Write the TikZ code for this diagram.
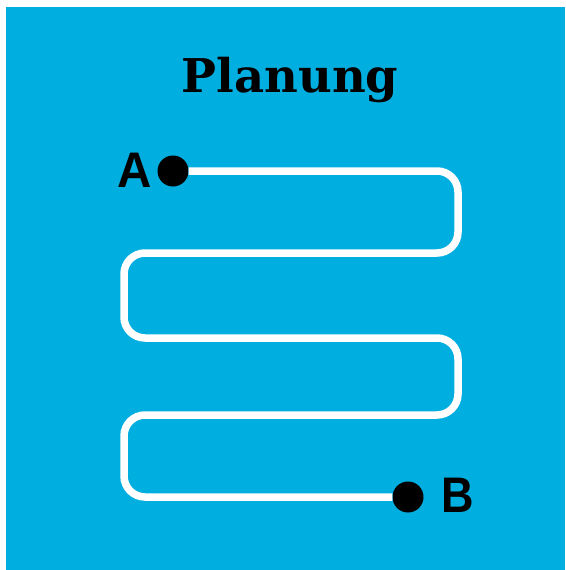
\documentclass[tikz,border=0pt]{standalone}
\usepackage{fontspec}
\newfontfamily\titlefont{DejaVu Serif}
\newfontfamily\labelfont{Liberation Sans}
\definecolor{skyblue}{RGB}{0,174,224}
\begin{document}
\begin{tikzpicture}[x=1pt,y=-1pt,
  dot/.style={circle,fill=black,minimum size=31pt,inner sep=0pt},
  letter/.style={font=\labelfont\bfseries\fontsize{50}{50}\selectfont,text=black,inner sep=0pt},
  route/.style={draw=white,line width=7.5pt,rounded corners=21pt},
  title/.style={font=\titlefont\bfseries\fontsize{46.5}{46.5}\selectfont,text=black,inner sep=0pt}]
\useasboundingbox (0,0) rectangle (565,570);
\fill[skyblue] (6,7) rectangle (565,570);
\node[title,anchor=base] (title) at (290,92) {Planung};
\node[dot] (dA) at (173,171) {};
\node[dot] (dB) at (408,497) {};
\node[letter,anchor=east,xscale=0.95] (A) at (152,170) {A};
\node[letter,anchor=west,xscale=0.9] (B) at (441,495) {B};
\draw[route] (dA) -- (458,171) -- (458,253) -- (124,253) -- (124,338) -- (458,338) -- (458,415) -- (124,415) -- (124,497) -- (dB);
\end{tikzpicture}
\end{document}
